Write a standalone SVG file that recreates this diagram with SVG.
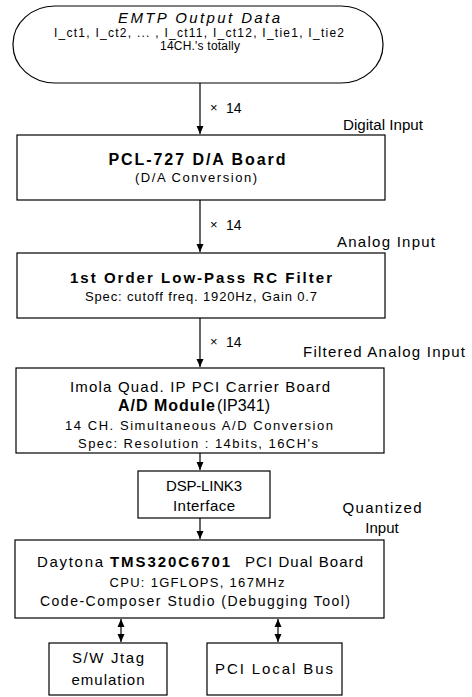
<svg xmlns="http://www.w3.org/2000/svg" width="472" height="697" viewBox="0 0 472 697">
<style>
.box{fill:#fff;stroke:#000;stroke-width:1.2}
.ln{stroke:#000;stroke-width:1.2;fill:none}
text{font-family:"Liberation Sans",Arial,sans-serif;fill:#000}
.c{text-anchor:middle}
.b{font-weight:bold}
</style>
<defs>
<marker id="ah" markerUnits="userSpaceOnUse" markerWidth="8" markerHeight="10" refX="8" refY="3.5" orient="auto">
<path d="M0,0 L8,3.5 L0,7 z" fill="#000"/>
</marker>
<marker id="as" markerUnits="userSpaceOnUse" markerWidth="8" markerHeight="10" refX="0" refY="3.5" orient="auto">
<path d="M8,0 L0,3.5 L8,7 z" fill="#000"/>
</marker>
</defs>
<rect width="472" height="697" fill="#fff"/>

<g id="connectors">
<line class="ln" x1="200" y1="83" x2="200" y2="134" marker-end="url(#ah)"/>
<line class="ln" x1="200" y1="200" x2="200" y2="252" marker-end="url(#ah)"/>
<line class="ln" x1="200" y1="318" x2="200" y2="367" marker-end="url(#ah)"/>
<line class="ln" x1="200" y1="453" x2="200" y2="470" marker-end="url(#ah)"/>
<line class="ln" x1="200" y1="518" x2="200" y2="539" marker-end="url(#ah)"/>
<line class="ln" x1="121" y1="619" x2="121" y2="642" marker-start="url(#as)" marker-end="url(#ah)"/>
<line class="ln" x1="278" y1="619" x2="278" y2="642" marker-start="url(#as)" marker-end="url(#ah)"/>
<text x="210" y="112" font-size="13">×</text><text x="226" y="113" font-size="14">14</text>
<text x="210" y="229" font-size="13">×</text><text x="226" y="230" font-size="14">14</text>
<text x="210" y="346" font-size="13">×</text><text x="226" y="347" font-size="14">14</text>
<text x="343" y="130" font-size="14" textLength="80" lengthAdjust="spacingAndGlyphs">Digital Input</text>
<text x="337" y="247" font-size="15" textLength="98" lengthAdjust="spacing">Analog Input</text>
<text x="303" y="357" font-size="15" textLength="162" lengthAdjust="spacing">Filtered Analog Input</text>
<text x="382" y="513" font-size="15" class="c" textLength="79" lengthAdjust="spacing">Quantized</text>
<text x="382" y="533" font-size="15" class="c">Input</text>
</g>

<g id="emtp">
<rect class="box" x="13" y="6" width="370" height="77" rx="42" ry="38"/>
<text x="199" y="23" font-size="15" class="c" font-style="italic" textLength="162" lengthAdjust="spacing">EMTP Output Data</text>
<text x="199" y="37" font-size="12" class="c" textLength="290" lengthAdjust="spacing">I_ct1, I_ct2, ... , I_ct11, I_ct12, I_tie1, I_tie2</text>
<text x="200" y="50" font-size="12" class="c" textLength="80" lengthAdjust="spacing">14CH.'s totally</text>
</g>

<g id="pcl727">
<rect class="box" x="17" y="135" width="368" height="65"/>
<text x="197" y="165" font-size="16" class="c b" textLength="177" lengthAdjust="spacing">PCL-727 D/A Board</text>
<text x="196" y="182" font-size="13" class="c" textLength="122" lengthAdjust="spacing">(D/A Conversion)</text>
</g>

<g id="rcfilter">
<rect class="box" x="17" y="253" width="368" height="65"/>
<text x="201" y="283" font-size="15" class="c b" textLength="262" lengthAdjust="spacing">1st Order Low-Pass RC Filter</text>
<text x="201" y="301" font-size="13" class="c" textLength="232" lengthAdjust="spacing">Spec: cutoff freq. 1920Hz, Gain 0.7</text>
</g>

<g id="admodule">
<rect class="box" x="16" y="368" width="368" height="85"/>
<text x="200" y="392" font-size="15" class="c" textLength="260" lengthAdjust="spacing">Imola Quad. IP PCI Carrier Board</text>
<text x="118" y="411" font-size="16" class="b" textLength="97" lengthAdjust="spacing">A/D Module</text>
<text x="217" y="411" font-size="16" textLength="53" lengthAdjust="spacing">(IP341)</text>
<text x="199" y="430" font-size="13" class="c" textLength="268" lengthAdjust="spacing">14 CH. Simultaneous A/D Conversion</text>
<text x="198" y="448" font-size="13" class="c" textLength="240" lengthAdjust="spacing">Spec: Resolution : 14bits, 16CH's</text>
</g>

<g id="dsplink">
<rect class="box" x="138" y="471" width="132" height="47"/>
<text x="204" y="491" font-size="15" class="c" textLength="76" lengthAdjust="spacing">DSP-LINK3</text>
<text x="204" y="511" font-size="15" class="c" textLength="62" lengthAdjust="spacing">Interface</text>
</g>

<g id="daytona">
<rect class="box" x="15" y="540" width="369" height="78"/>
<text x="37" y="567" font-size="15" textLength="66" lengthAdjust="spacing">Daytona</text>
<text x="110" y="567" font-size="15" class="b" textLength="120" lengthAdjust="spacing">TMS320C6701</text>
<text x="245" y="567" font-size="15" textLength="118" lengthAdjust="spacing">PCI Dual Board</text>
<text x="197" y="587" font-size="13" class="c" textLength="175" lengthAdjust="spacing">CPU: 1GFLOPS, 167MHz</text>
<text x="195" y="606" font-size="14" class="c" textLength="310" lengthAdjust="spacing">Code-Composer Studio (Debugging Tool)</text>
</g>

<g id="jtag">
<rect class="box" x="49" y="643" width="118" height="52"/>
<text x="108" y="663" font-size="15" class="c" textLength="72" lengthAdjust="spacing">S/W Jtag</text>
<text x="108" y="685" font-size="15" class="c" textLength="73" lengthAdjust="spacing">emulation</text>
</g>

<g id="pcibus">
<rect class="box" x="207" y="643" width="135" height="52"/>
<text x="274" y="674" font-size="15" class="c" textLength="118" lengthAdjust="spacing">PCI Local Bus</text>
</g>
</svg>
